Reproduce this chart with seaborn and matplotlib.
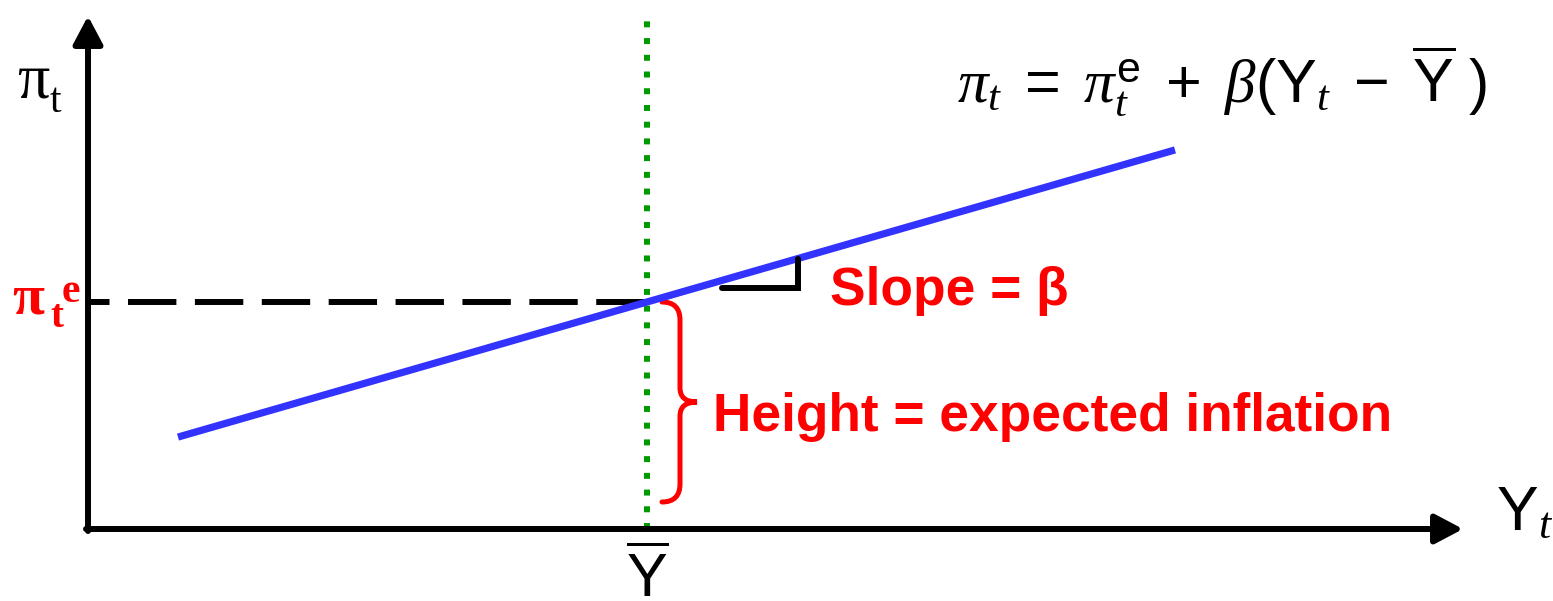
import numpy as np
import pandas as pd
import matplotlib
matplotlib.use("Agg")
import matplotlib.pyplot as plt
import seaborn as sns
from matplotlib.path import Path
from matplotlib.patches import PathPatch

# diagram values (units measured from the axes corner)
y_bar = 559            # potential output
pi_e = 227             # expected inflation
beta = 0.288           # slope of the Phillips curve
y_line = [90, 1087]    # output range drawn for the curve
y_max = 1375           # end of the horizontal axis
pi_max = 513           # top of the vertical axis

curve = pd.DataFrame({"Y": y_line})
curve["pi"] = pi_e + beta * (curve["Y"] - y_bar)

sns.set_style("white")
plt.rcParams["text.color"] = "black"
plt.rcParams["mathtext.fontset"] = "custom"
plt.rcParams["mathtext.rm"] = "Liberation Sans"
plt.rcParams["mathtext.sf"] = "Liberation Sans"
plt.rcParams["mathtext.it"] = "Liberation Serif:italic"

RED = "#ff0000"
BLUE = "#3333ff"
GREEN = "#009900"

fig = plt.figure(figsize=(15.53, 6.01), dpi=100)
ax = fig.add_axes([0, 0, 1, 1])
ax.set_xlim(-88, 1465)
ax.set_ylim(-72, 529)
ax.axis("off")


def px(x, y):
    # picture position -> diagram units
    return x - 88, 529 - y


# axes with arrow heads
arrow = dict(arrowstyle="-|>,head_length=0.85,head_width=0.45", lw=4.3,
             color="black", shrinkA=0, shrinkB=0, mutation_scale=20)
ax.annotate("", xy=(y_max, 0), xytext=(-2, 0), arrowprops=arrow)
ax.annotate("", xy=(0, pi_max), xytext=(0, -2), arrowprops=arrow)

# guides
ax.vlines(y_bar, 0, pi_max, color=GREEN, lw=4.3, linestyles=(0, (1.0, 1.8)))
ax.hlines(pi_e, 0, y_bar, color="black", lw=4.3, linestyles=(4.5, (8.1, 3.1)))

# Phillips curve
sns.lineplot(data=curve, x="Y", y="pi", ax=ax, color=BLUE, lw=5.2,
             solid_capstyle="butt", legend=False)

# slope triangle
x0, x1 = y_bar + 75, y_bar + 151
top = pi_e + beta * (x1 - y_bar)
ax.plot([x0, x1, x1], [pi_e + 14, pi_e + 14, top], color="black", lw=4.3,
        solid_joinstyle="miter")

# brace showing the height
bx0, bx1, bx2 = y_bar + 15, y_bar + 33, y_bar + 50
b_top, b_bot = pi_e, 27
b_mid = (b_top + b_bot) / 2
verts = [(bx0, b_top), (bx1, b_top), (bx1, b_top - 18),
         (bx1, b_mid + 14),
         (bx1, b_mid), (bx2, b_mid),
         (bx1, b_mid), (bx1, b_mid - 14),
         (bx1, b_bot + 18),
         (bx1, b_bot), (bx0, b_bot)]
codes = [Path.MOVETO, Path.CURVE3, Path.CURVE3, Path.LINETO,
         Path.CURVE3, Path.CURVE3, Path.CURVE3, Path.CURVE3,
         Path.LINETO, Path.CURVE3, Path.CURVE3]
ax.add_patch(PathPatch(Path(verts, codes), facecolor="none", edgecolor=RED,
                       lw=3.6, capstyle="round"))

# labels
serif = "Liberation Serif"
ax.text(*px(17, 98), "\u03c0", family=serif, fontsize=46, va="baseline",
        color="black")
ax.text(*px(50, 112), "t", family=serif, fontsize=30, va="baseline",
        color="black")

ax.text(*px(12, 313), "\u03c0", family=serif, fontsize=42, weight="bold",
        color=RED, va="baseline")
ax.text(*px(50, 327), "t", family=serif, fontsize=28, weight="bold",
        color=RED, va="baseline")
ax.text(*px(62, 302), "e", family=serif, fontsize=30, weight="bold",
        color=RED, va="baseline")

ax.text(*px(957, 102),
        r"$\pi_t\ =\ \pi_t^{\mathrm{e}}\ +\ \beta(\mathrm{Y}_t\ -\ \overline{\mathrm{Y}}\ )$",
        fontsize=44, va="baseline", ha="left", color="black")
ax.text(*px(1496, 530), r"$\mathrm{Y}_t$", fontsize=45, va="baseline",
        color="black")
ax.text(*px(647, 597), r"$\overline{\mathrm{Y}}$", fontsize=44,
        va="baseline", ha="center", color="black")

sans = "Liberation Sans"
ax.text(*px(830, 305), "Slope = \u03b2", family=sans, fontsize=38.3,
        weight="bold", color=RED, va="baseline")
ax.text(*px(713, 431), "Height = expected inflation", family=sans,
        fontsize=38.3, weight="bold", color=RED, va="baseline")

fig.savefig("out.png", dpi=100)
